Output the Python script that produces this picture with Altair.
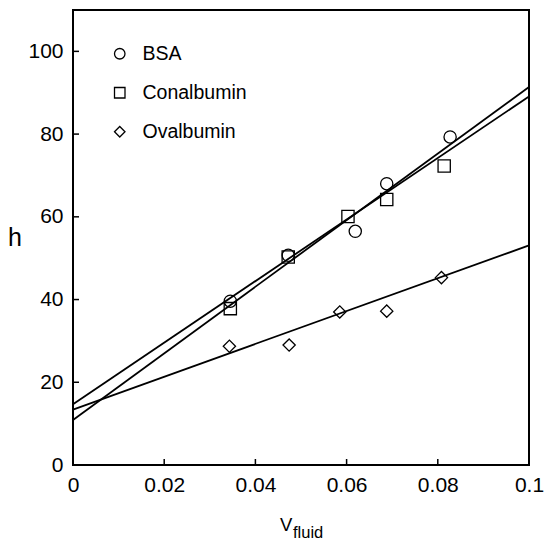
import altair as alt
import pandas as pd

# ---- data ----
series_names = ["BSA", "Conalbumin", "Ovalbumin"]
series_shapes = ["circle", "square", "diamond"]

bsa_x = [0.0345, 0.0472, 0.0619, 0.0688, 0.0827]
bsa_y = [39.6, 50.7, 56.5, 68.0, 79.3]
con_x = [0.0345, 0.0472, 0.0603, 0.0688, 0.0814]
con_y = [37.8, 50.3, 60.1, 64.2, 72.3]
ova_x = [0.0343, 0.0474, 0.0585, 0.0688, 0.0808]
ova_y = [28.7, 29.0, 37.0, 37.2, 45.3]

# fitted lines: values at x = 0 and x = 0.1
line_x = [0.0, 0.1]
bsa_line = [10.9, 91.4]
con_line = [14.7, 89.1]
ova_line = [13.4, 53.1]

x_ticks = [0, 0.02, 0.04, 0.06, 0.08, 0.1]
y_ticks = [0, 20, 40, 60, 80, 100]

FONT = "Liberation Sans"
W, H = 456, 455

pts = pd.DataFrame(
    [{"series": "BSA", "x": a, "y": b} for a, b in zip(bsa_x, bsa_y)]
    + [{"series": "Conalbumin", "x": a, "y": b} for a, b in zip(con_x, con_y)]
    + [{"series": "Ovalbumin", "x": a, "y": b} for a, b in zip(ova_x, ova_y)]
)
lines = pd.DataFrame(
    [{"series": "BSA", "x": a, "y": b} for a, b in zip(line_x, bsa_line)]
    + [{"series": "Conalbumin", "x": a, "y": b} for a, b in zip(line_x, con_line)]
    + [{"series": "Ovalbumin", "x": a, "y": b} for a, b in zip(line_x, ova_line)]
)

xs = alt.Scale(domain=[0, 0.1], nice=False, zero=False)
ys = alt.Scale(domain=[0, 110], nice=False, zero=False)

xaxis = alt.Axis(values=x_ticks, format="~g", ticks=False, domain=False, grid=False,
                 labelFontSize=21, labelFont=FONT, labelColor="black", labelPadding=9,
                 title=None, labelFlush=False)
yaxis = alt.Axis(values=y_ticks, format="d", ticks=False, domain=False, grid=False,
                 labelFontSize=21, labelFont=FONT, labelColor="black", labelPadding=10,
                 title=None)

line_layer = alt.Chart(lines).mark_line(color="black", strokeWidth=1.8).encode(
    x=alt.X("x:Q", scale=xs, axis=xaxis),
    y=alt.Y("y:Q", scale=ys, axis=yaxis),
    detail="series:N",
)

point_layer = alt.Chart(pts).mark_point(filled=False, color="black", strokeWidth=1.3,
                                        size=150, opacity=1).encode(
    x=alt.X("x:Q", scale=xs),
    y=alt.Y("y:Q", scale=ys),
    shape=alt.Shape("series:N",
                    scale=alt.Scale(domain=series_names, range=series_shapes),
                    legend=alt.Legend(title=None, orient="none", legendX=37, legendY=34,
                                      padding=0, labelFontSize=19.5, labelFont=FONT,
                                      labelColor="black", symbolSize=110,
                                      symbolStrokeColor="black", symbolFillColor="white",
                                      symbolStrokeWidth=1.3, rowPadding=18,
                                      labelOffset=13)),
)

ytick_df = pd.DataFrame({"v": y_ticks[1:]})
xtick_df = pd.DataFrame({"v": x_ticks[1:-1]})
ytick_layer = alt.Chart(ytick_df).mark_rule(color="black", strokeWidth=1.5).encode(
    y=alt.Y("v:Q", scale=ys), x=alt.value(0), x2=alt.value(6))
xtick_layer = alt.Chart(xtick_df).mark_rule(color="black", strokeWidth=1.5).encode(
    x=alt.X("v:Q", scale=xs), y=alt.value(H), y2=alt.value(H - 6))

h_label = alt.Chart(pd.DataFrame({"t": ["h"]})).mark_text(
    font=FONT, fontSize=25, color="black", align="center", baseline="alphabetic").encode(
    text="t:N", x=alt.value(-58), y=alt.value(236))
v_label = alt.Chart(pd.DataFrame({"t": ["V"]})).mark_text(
    font=FONT, fontSize=18.5, color="black", align="left", baseline="alphabetic").encode(
    text="t:N", x=alt.value(207), y=alt.value(521))
fluid_label = alt.Chart(pd.DataFrame({"t": ["fluid"]})).mark_text(
    font=FONT, fontSize=16.5, color="black", align="left", baseline="alphabetic").encode(
    text="t:N", x=alt.value(220), y=alt.value(528))

chart = alt.layer(line_layer, point_layer, ytick_layer, xtick_layer,
                  h_label, v_label, fluid_label).properties(
    width=W, height=H,
    autosize=alt.AutoSizeParams(type="none"),
    padding={"left": 73, "top": 10, "right": 23, "bottom": 76},
    background="white",
).configure_view(stroke="black", strokeWidth=2)

chart.save("out.html", embed_options={"renderer": "svg", "actions": False})
